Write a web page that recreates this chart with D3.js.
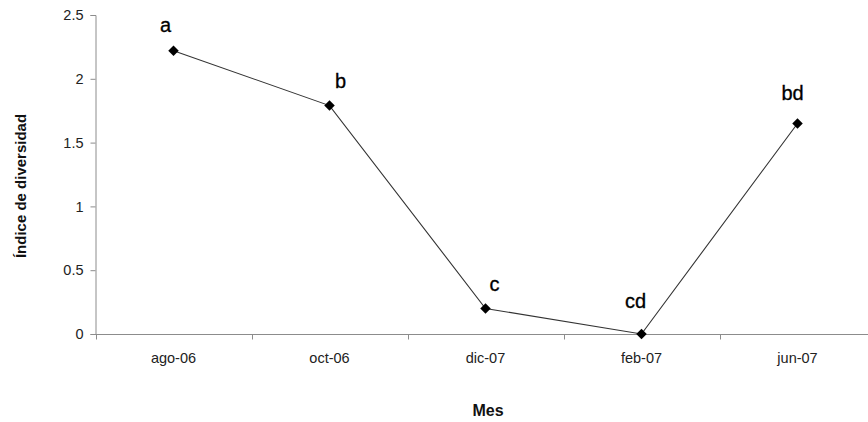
<!DOCTYPE html>
<html>
<head>
<meta charset="utf-8">
<script src="https://cdn.jsdelivr.net/npm/d3@7"></script>
<style>
  html, body { margin: 0; padding: 0; background: #fff; }
  svg { display: block; font-family: "Liberation Sans", Arial, sans-serif; }
</style>
</head>
<body>
<svg id="chart" width="868" height="422"></svg>
<script>
// Monthly diversity index with significance letters
const months = ["ago-06", "oct-06", "dic-07", "feb-07", "jun-07"];
const diversity = [2.22, 1.79, 0.2, 0.0, 1.65];
const groups = ["a", "b", "c", "cd", "bd"];
const yTicks = [0, 0.5, 1, 1.5, 2, 2.5];

const svg = d3.select("#chart");
const margin = { left: 95.5, top: 15, bottom: 88 };
const width = 868, height = 422;

const x = d3.scaleBand()
  .domain(months)
  .range([margin.left, margin.left + 156 * months.length])
  .paddingInner(0).paddingOuter(0);

const y = d3.scaleLinear()
  .domain([0, 2.5])
  .range([334, margin.top]);

const axisColor = "#8c8c8c";

// Y axis
const yAxis = svg.append("g")
  .attr("transform", `translate(${margin.left},0)`)
  .call(d3.axisLeft(y).tickValues(yTicks).tickFormat(d => String(d)).tickSize(5).tickPadding(7));
yAxis.select(".domain").attr("stroke", axisColor);
yAxis.selectAll(".tick line").attr("stroke", axisColor);
yAxis.selectAll(".tick text").attr("fill", "#222").style("font-size", "14.5px");

// X axis: tick marks on category boundaries, labels centred in each band
const xAxisG = svg.append("g").attr("transform", `translate(0,${y(0) + 0.5})`);
xAxisG.append("line")
  .attr("x1", margin.left).attr("x2", width)
  .attr("stroke", axisColor);
const bounds = months.map(m => x(m));
xAxisG.selectAll("line.tk").data(bounds).join("line")
  .attr("class", "tk")
  .attr("x1", d => Math.round(d) + 0.5).attr("x2", d => Math.round(d) + 0.5)
  .attr("y1", 0).attr("y2", 5)
  .attr("stroke", axisColor);
xAxisG.selectAll("text").data(months).join("text")
  .attr("x", d => x(d) + x.bandwidth() / 2)
  .attr("y", 28)
  .attr("text-anchor", "middle")
  .attr("fill", "#222")
  .style("font-size", "14.5px")
  .text(d => d);

// Series line
const pts = months.map((m, i) => [x(m) + x.bandwidth() / 2, y(diversity[i])]);
svg.append("path")
  .attr("d", d3.line()(pts))
  .attr("fill", "none")
  .attr("stroke", "#333")
  .attr("stroke-width", 1.1);

// Diamond markers
svg.selectAll("path.mk").data(pts).join("path")
  .attr("class", "mk")
  .attr("d", d3.symbol(d3.symbolDiamond2, 70)())
  .attr("transform", d => `translate(${d[0]},${d[1]})`)
  .attr("fill", "#000");

// Group letters above points
const labelDx = [-8, 11, 9, -6, -5];
const labelDy = [-19, -18, -17, -26, -23];
svg.selectAll("text.grp").data(groups).join("text")
  .attr("class", "grp")
  .attr("x", (d, i) => pts[i][0] + labelDx[i])
  .attr("y", (d, i) => pts[i][1] + labelDy[i])
  .attr("text-anchor", "middle")
  .attr("fill", "#000")
  .attr("stroke", "#000").attr("stroke-width", 0.3)
  .style("font-size", "20px")
  .text(d => d);

// Axis titles
svg.append("text")
  .attr("transform", "translate(26,186) rotate(-90)")
  .attr("text-anchor", "middle")
  .style("font-size", "15px").style("font-weight", "bold")
  .attr("fill", "#111")
  .text("Índice de diversidad");

svg.append("text")
  .attr("x", 488).attr("y", 416)
  .attr("text-anchor", "middle")
  .style("font-size", "16px").style("font-weight", "bold")
  .attr("fill", "#111")
  .text("Mes");
</script>
</body>
</html>
